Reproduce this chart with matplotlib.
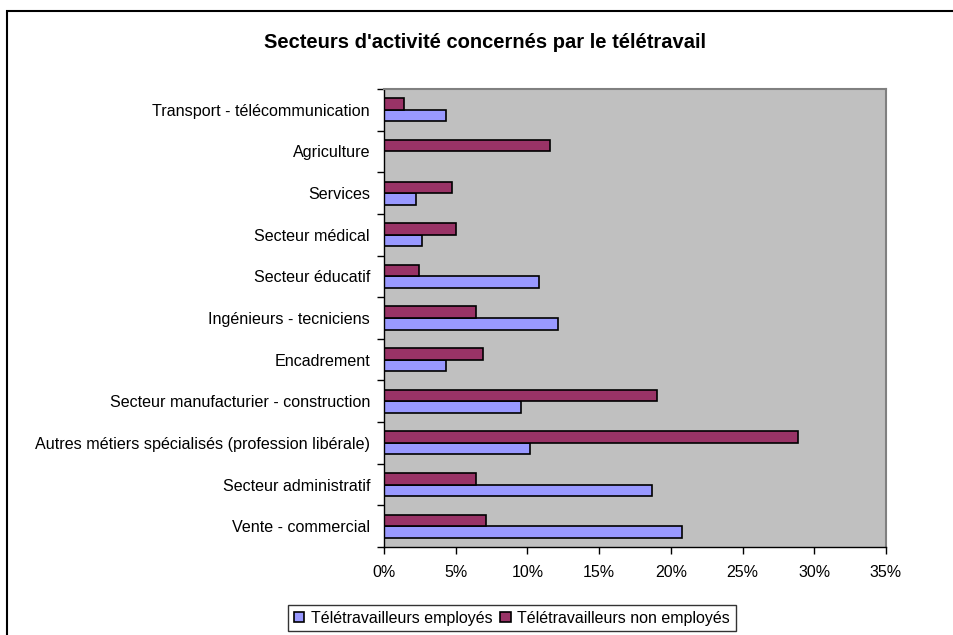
import matplotlib.pyplot as plt
import matplotlib.patches as patches
from matplotlib.ticker import FuncFormatter
import numpy as np

plt.rcParams['font.family'] = ['Liberation Sans', 'DejaVu Sans']

# Data (top to bottom as shown in the chart)
categories = ['Transport - télécommunication', 'Agriculture', 'Services',
              'Secteur médical', 'Secteur éducatif', 'Ingénieurs - tecniciens',
              'Encadrement', 'Secteur manufacturier - construction',
              'Autres métiers spécialisés (profession libérale)',
              'Secteur administratif', 'Vente - commercial']
employes = [4.35, 0, 2.23, 2.65, 10.82, 12.1, 4.35, 9.56, 10.19, 18.68, 20.8]
non_employes = [1.37, 11.56, 4.77, 5.0, 2.44, 6.38, 6.91, 19.0, 28.85, 6.38, 7.12]
series_names = ['Télétravailleurs employés', 'Télétravailleurs non employés']

fig = plt.figure(figsize=(9.54, 6.35), dpi=100)
ax = fig.add_axes([384 / 954, 88 / 635, 502 / 954, 458 / 635])
ax.set_facecolor('#C0C0C0')

n = len(categories)
y = np.arange(n)[::-1]  # first category at top
h = 0.278

ax.barh(y - h / 2, employes, h, color='#9999FF', edgecolor='black', linewidth=1.2,
        label=series_names[0])
ax.barh(y + h / 2, non_employes, h, color='#993366', edgecolor='black', linewidth=1.2,
        label=series_names[1])

ax.set_xlim(0, 35)
ax.set_ylim(-0.5, n - 0.5)
ax.set_xticks(np.arange(0, 36, 5))
ax.xaxis.set_major_formatter(FuncFormatter(lambda v, p: f'{int(v)}%'))
ax.set_yticks(y)
ax.set_yticklabels(categories)
ax.set_yticks(np.arange(-0.5, n, 1), minor=True)
ax.tick_params(axis='y', which='major', length=0, pad=10, labelsize=11.6)
ax.tick_params(axis='y', which='minor', length=5, width=1, direction='out')
ax.tick_params(axis='x', length=5, width=1, direction='out', pad=8, labelsize=11.5)

for side in ['left', 'bottom']:
    ax.spines[side].set_color('black')
    ax.spines[side].set_linewidth(1.0)
for side in ['top', 'right']:
    ax.spines[side].set_color('#808080')
    ax.spines[side].set_linewidth(1.5)

fig.text(485 / 954, 1 - 42 / 635, "Secteurs d'activité concernés par le télétravail",
         ha='center', va='center', fontsize=14.5, fontweight='bold')

handles, labels = ax.get_legend_handles_labels()
leg = fig.legend(handles, labels, loc='center', bbox_to_anchor=(512 / 954, 17 / 635),
                 ncol=2, fontsize=11.5, frameon=True, fancybox=False,
                 edgecolor='black', handlelength=0.65, handleheight=0.65,
                 handletextpad=0.4, columnspacing=0.5, borderpad=0.35)
leg.get_frame().set_linewidth(1.0)

# outer chart frame
fig.patches.append(patches.Rectangle((7 / 954, -0.1), 1.2, 1.1 - 11 / 635,
                                     transform=fig.transFigure, fill=False,
                                     edgecolor='black', linewidth=1.5))

fig.savefig('out.png', dpi=100)
